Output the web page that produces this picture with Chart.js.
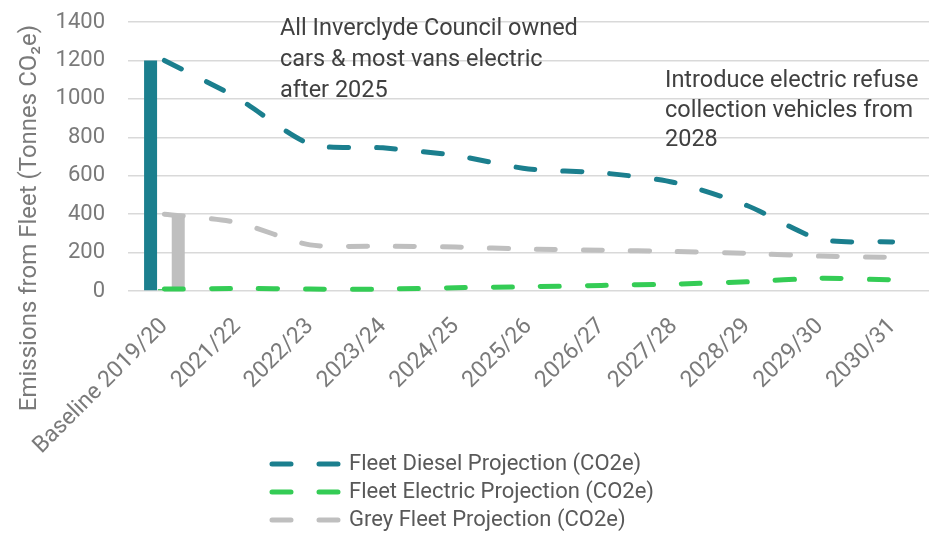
<!DOCTYPE html>
<html>
<head>
<meta charset="utf-8">
<script src="https://cdn.jsdelivr.net/npm/chart.js@4/dist/chart.umd.min.js"></script>
<style>
html,body{margin:0;padding:0;background:#ffffff;}
#wrap{width:929px;height:533px;position:relative;}
</style>
</head>
<body>
<div id="wrap"><canvas id="c" width="929" height="533"></canvas></div>
<script>
// ---- data ----
const categories = ['Baseline 2019/20','2021/22','2022/23','2023/24','2024/25','2025/26','2026/27','2027/28','2028/29','2029/30','2030/31'];
const dieselProjection   = [1200, 1005, 765, 745, 705, 635, 615, 565, 445, 270, 255];
const electricProjection = [10, 13, 10, 10, 17, 22, 29, 36, 48, 66, 58];
const greyProjection     = [400, 356, 240, 234, 229, 218, 212, 206, 196, 182, 175];
const baselineDiesel   = [1200];
const baselineElectric = [10];
const baselineGrey     = [400];
const yTickValues = [0, 200, 400, 600, 800, 1000, 1200, 1400];
const seriesNames = ['Fleet Diesel Projection (CO2e)', 'Fleet Electric Projection (CO2e)', 'Grey Fleet Projection (CO2e)'];
const yTitle = 'Emissions from Fleet (Tonnes CO\u2082e)';
const noteLeft  = ['All Inverclyde Council owned', 'cars & most vans electric', 'after 2025'];
const noteRight = ['Introduce electric refuse', 'collection vehicles from', '2028'];

// ---- style ----
const TEAL = '#1b7f8e', GREEN = '#34cc55', GREY = '#bfbfbf';
const FONT = 'Roboto, "Liberation Sans", Arial, sans-serif';
const AXIS_TXT = '#7a7a7a';
const LEGEND_LEFT = 266, LEGEND_WIDTH = 480, LEGEND_TOP = 447, LEGEND_LAYOUT_H = 60;

const onlyBaseline = arr => categories.map((c, i) => i === 0 ? arr[0] : null);

const lineDs = (label, data, color) => ({
  type: 'line', label, data,
  borderColor: color, backgroundColor: color,
  borderWidth: 5, borderDash: [19, 28], borderCapStyle: 'round',
  pointRadius: 0, pointHoverRadius: 0, tension: 0.25, fill: false, order: 0
});
const barDs = (label, data, color) => ({
  type: 'bar', label, data,
  backgroundColor: color, borderWidth: 0,
  categoryPercentage: 0.57, barPercentage: 0.94, order: 1
});

const layoutFix = {
  id: 'layoutFix',
  beforeLayout(chart) {
    const lg = chart.legend;
    if (lg && !lg.__patched) {
      const orig = lg.update.bind(lg);
      lg.update = function (maxW, maxH, margins) {
        const r = orig(Math.min(maxW, LEGEND_WIDTH), maxH, margins);
        lg.__fullHeight = lg.height;
        lg.height = LEGEND_LAYOUT_H;
        return r;
      };
      lg.__patched = true;
    }
  },
  afterLayout(chart) {
    const lg = chart.legend;
    if (lg) {
      lg.left = LEGEND_LEFT; lg.right = LEGEND_LEFT + LEGEND_WIDTH; lg.width = LEGEND_WIDTH;
      lg.height = lg.__fullHeight || lg.height;
      lg.top = LEGEND_TOP; lg.bottom = LEGEND_TOP + lg.height;
    }
    const y = chart.scales.y;
    y.top = 0; y.bottom = 436;  // centre the long axis title like the original
  },
  afterDatasetsDraw(chart) {
    const ctx = chart.ctx, a = chart.chartArea;
    ctx.save();
    ctx.fillStyle = '#404040';
    ctx.font = '23.5px ' + FONT;
    ctx.textAlign = 'left';
    ctx.textBaseline = 'alphabetic';
    noteLeft.forEach((t, i) => ctx.fillText(t, a.left + 152, a.top + 13 + i * 31));
    noteRight.forEach((t, i) => ctx.fillText(t, a.left + 537, a.top + 65 + i * 29.5));
    ctx.restore();
  }
};

new Chart(document.getElementById('c'), {
  data: {
    labels: categories,
    datasets: [
      lineDs(seriesNames[0], dieselProjection, TEAL),
      lineDs(seriesNames[1], electricProjection, GREEN),
      lineDs(seriesNames[2], greyProjection, GREY),
      barDs('Baseline diesel', onlyBaseline(baselineDiesel), TEAL),
      barDs('Baseline electric', onlyBaseline(baselineElectric), GREEN),
      barDs('Baseline grey', onlyBaseline(baselineGrey), GREY)
    ]
  },
  options: {
    responsive: false,
    animation: false,
    devicePixelRatio: 1,
    layout: { padding: { left: 12, top: 22, right: 0, bottom: 0 } },
    scales: {
      x: {
        type: 'category', offset: true,
        grid: { display: false }, border: { display: false },
        ticks: { autoSkip: false, minRotation: 45, maxRotation: 45, padding: 14,
                 color: AXIS_TXT, font: { family: FONT, size: 23 } },
        afterFit(s) { s.height = 182; }
      },
      y: {
        min: 0, max: 1400,
        afterBuildTicks(s) { s.ticks = yTickValues.map(v => ({ value: v })); },
        ticks: { padding: 2, color: AXIS_TXT, font: { family: FONT, size: 22 }, callback: v => String(v) },
        grid: { color: '#d9d9d9', lineWidth: 1.5, drawTicks: true, tickLength: 21, tickColor: 'rgba(0,0,0,0)' },
        border: { display: false },
        title: { display: true, text: yTitle, color: AXIS_TXT, font: { family: FONT, size: 24 }, padding: { top: 4, bottom: 4 } },
        afterFit(s) { s.width = 116; }
      }
    },
    plugins: {
      tooltip: { enabled: false },
      legend: {
        position: 'bottom', align: 'start',
        labels: {
          usePointStyle: true, pointStyle: 'line', pointStyleWidth: 66,
          padding: 6, color: '#595959', font: { family: FONT, size: 22 },
          filter: item => item.datasetIndex < 3,
          generateLabels(chart) {
            const base = Chart.defaults.plugins.legend.labels.generateLabels(chart);
            return base.map(it => {
              const ds = chart.data.datasets[it.datasetIndex];
              return Object.assign(it, { lineDash: ds.borderDash, lineCap: 'round', lineWidth: 5, strokeStyle: ds.borderColor, pointStyle: 'line' });
            });
          }
        }
      }
    }
  },
  plugins: [layoutFix]
});
</script>
</body>
</html>
